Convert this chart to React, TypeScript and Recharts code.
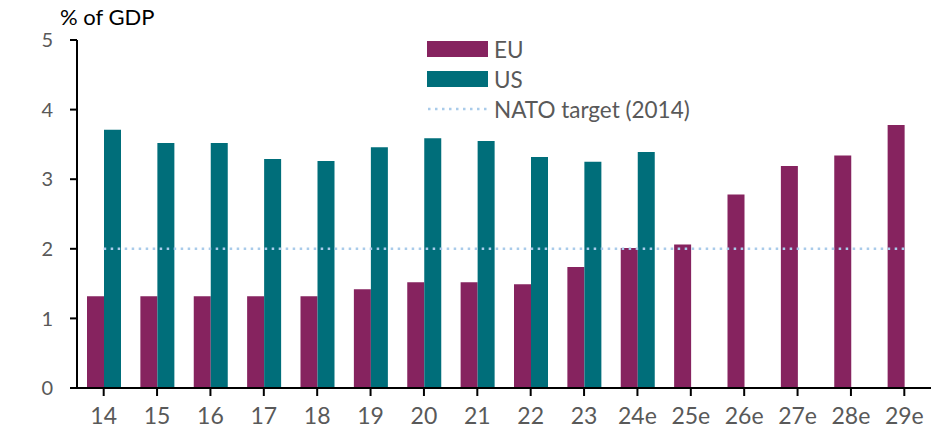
import { Bar, ComposedChart, Line, XAxis, YAxis } from 'recharts';

const anos = ['14', '15', '16', '17', '18', '19', '20', '21', '22', '23', '24e', '25e', '26e', '27e', '28e', '29e'];
const gastosEU = [1.32, 1.32, 1.32, 1.32, 1.32, 1.42, 1.52, 1.52, 1.49, 1.74, 2.01, 2.06, 2.78, 3.19, 3.34, 3.78];
const gastosUS = [3.71, 3.52, 3.52, 3.29, 3.26, 3.46, 3.59, 3.55, 3.32, 3.25, 3.39, null, null, null, null, null];
const metaNato = 2;
const ticksY = [0, 1, 2, 3, 4, 5];

const COR_EU = '#86235F';
const COR_US = '#006E7A';
const COR_NATO = '#A9CBEA';
const FONTE = 'Lato, "Open Sans", sans-serif';

const dados = anos.map((ano, i) => ({
  ano,
  EU: gastosEU[i],
  US: gastosUS[i],
  nato: metaNato
}));

const Legenda = () => {
  const itens = [
    { nome: 'EU', cor: COR_EU, tipo: 'bar' },
    { nome: 'US', cor: COR_US, tipo: 'bar' },
    { nome: 'NATO target (2014)', cor: COR_NATO, tipo: 'line' },
  ];
  return (
    <div style={{ position: 'absolute', left: 427, top: 34, fontFamily: FONTE, fontSize: 22.5, color: '#595959' }}>
      {itens.map((it) => (
        <div key={it.nome} style={{ display: 'flex', alignItems: 'center', height: 30 }}>
          {it.tipo === 'bar' ? (
            <div style={{ width: 61, height: 16, background: it.cor, marginRight: 6 }} />
          ) : (
            <svg width={61} height={16} style={{ marginRight: 6 }}>
              <line x1={1} x2={60} y1={8} y2={8} stroke={it.cor} strokeWidth={2.5} strokeDasharray="2.5 4.5" />
            </svg>
          )}
          <span>{it.nome}</span>
        </div>
      ))}
    </div>
  );
};

const App = () => {
  return (
    <div style={{ position: 'absolute', left: 0, top: 0, width: 940, height: 434, background: '#fff' }}>
      <ComposedChart
        width={940}
        height={434}
        data={dados}
        margin={{ top: 40, right: 9, left: 0, bottom: 0 }}
        barGap={0}
        barCategoryGap="18%"
      >
        <XAxis
          dataKey="ano"
          height={46}
          axisLine={{ stroke: '#000', strokeWidth: 2 }}
          tickLine={{ stroke: '#000', strokeWidth: 2 }}
          tickSize={8}
          tick={{ fill: '#595959', fontSize: 23, fontFamily: FONTE }}
          tickMargin={12}
          interval={0}
        />
        <YAxis
          width={77}
          domain={[0, 5]}
          ticks={ticksY}
          axisLine={{ stroke: '#000', strokeWidth: 2 }}
          tickLine={{ stroke: '#000', strokeWidth: 2 }}
          tickSize={7}
          tickMargin={17}
          tick={{ fill: '#595959', fontSize: 20, fontFamily: FONTE }}
        />
        <Bar dataKey="EU" fill={COR_EU} barSize={17} isAnimationActive={false} />
        <Bar dataKey="US" fill={COR_US} barSize={17} isAnimationActive={false} />
        <Line
          dataKey="nato"
          stroke={COR_NATO}
          strokeWidth={2.5}
          strokeDasharray="2.5 4.5"
          dot={false}
          activeDot={false}
          isAnimationActive={false}
        />
      </ComposedChart>
      <div style={{ position: 'absolute', left: 60, top: 3, fontFamily: FONTE, fontSize: 22, color: '#000' }}>
        % of GDP
      </div>
      <Legenda />
    </div>
  );
};

export default App;
